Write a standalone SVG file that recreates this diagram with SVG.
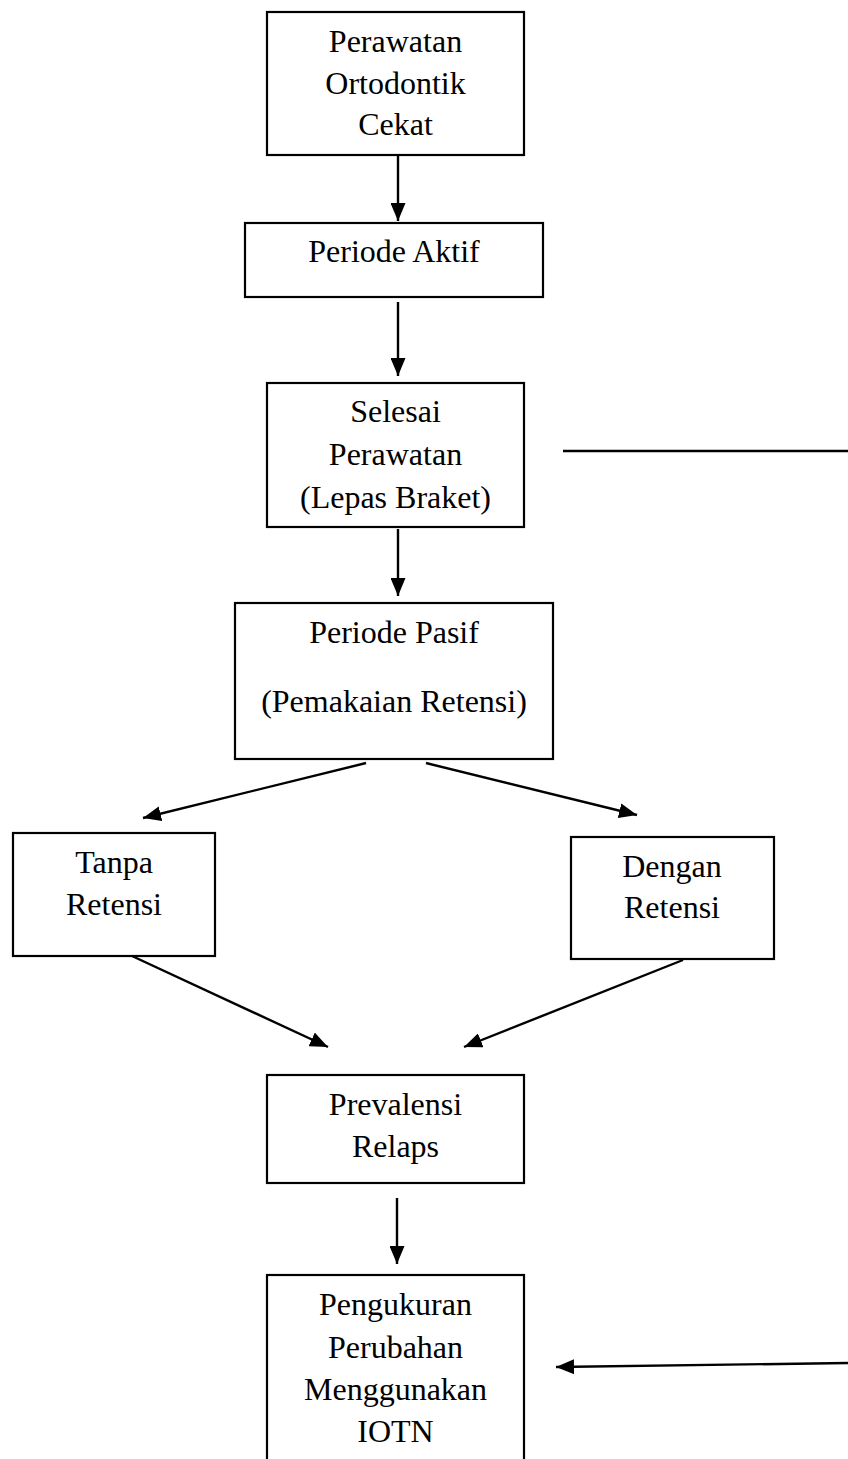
<svg xmlns="http://www.w3.org/2000/svg" width="848" height="1459" viewBox="0 0 848 1459">
<style>
.box{fill:#fff;stroke:#000;stroke-width:2.2}
.t{font-family:"Liberation Serif","Times New Roman",serif;font-size:32px;fill:#000;text-anchor:middle}
.c{stroke:#000;stroke-width:2.4;fill:none}
.a{marker-end:url(#ah)}
</style>
<defs>
<marker id="ah" markerWidth="18" markerHeight="15" refX="18" refY="7.5" orient="auto" markerUnits="userSpaceOnUse">
<path d="M0,0 L18,7.5 L0,15 z" fill="#000"/>
</marker>
</defs>
<rect width="848" height="1459" fill="#fff"/>
<g id="connectors">
<line class="c a" x1="398" y1="155" x2="398" y2="221"/>
<line class="c a" x1="398" y1="302" x2="398" y2="376"/>
<line class="c a" x1="398" y1="529" x2="398" y2="596"/>
<line class="c a" x1="366" y1="763" x2="143" y2="818"/>
<line class="c a" x1="426" y1="763" x2="637" y2="815"/>
<line class="c a" x1="132" y1="956" x2="328" y2="1047"/>
<line class="c a" x1="683" y1="960" x2="464" y2="1047"/>
<line class="c a" x1="397" y1="1198" x2="397" y2="1264"/>
<line class="c a" x1="848" y1="1363" x2="556" y2="1367"/>
<line class="c" x1="563" y1="451" x2="848" y2="451" stroke-width="1.5"/>
</g>
<g id="n1">
<rect class="box" x="267" y="12" width="257" height="143"/>
<text class="t" x="395.5" y="52">Perawatan</text>
<text class="t" x="395.5" y="94">Ortodontik</text>
<text class="t" x="395.5" y="135">Cekat</text>
</g>
<g id="n2">
<rect class="box" x="245" y="223" width="298" height="74"/>
<text class="t" x="394" y="262">Periode Aktif</text>
</g>
<g id="n3">
<rect class="box" x="267" y="383" width="257" height="144"/>
<text class="t" x="395.5" y="422">Selesai</text>
<text class="t" x="395.5" y="465">Perawatan</text>
<text class="t" x="395.5" y="508">(Lepas Braket)</text>
</g>
<g id="n4">
<rect class="box" x="235" y="603" width="318" height="156"/>
<text class="t" x="394" y="643">Periode Pasif</text>
<text class="t" x="394" y="712">(Pemakaian Retensi)</text>
</g>
<g id="n5">
<rect class="box" x="13" y="833" width="202" height="123"/>
<text class="t" x="114" y="873">Tanpa</text>
<text class="t" x="114" y="915">Retensi</text>
</g>
<g id="n6">
<rect class="box" x="571" y="837" width="203" height="122"/>
<text class="t" x="672" y="877">Dengan</text>
<text class="t" x="672" y="918">Retensi</text>
</g>
<g id="n7">
<rect class="box" x="267" y="1075" width="257" height="108"/>
<text class="t" x="395.5" y="1115">Prevalensi</text>
<text class="t" x="395.5" y="1157">Relaps</text>
</g>
<g id="n8">
<rect class="box" x="267" y="1275" width="257" height="200"/>
<text class="t" x="395.5" y="1315">Pengukuran</text>
<text class="t" x="395.5" y="1358">Perubahan</text>
<text class="t" x="395.5" y="1400">Menggunakan</text>
<text class="t" x="395.5" y="1442">IOTN</text>
</g>
</svg>
